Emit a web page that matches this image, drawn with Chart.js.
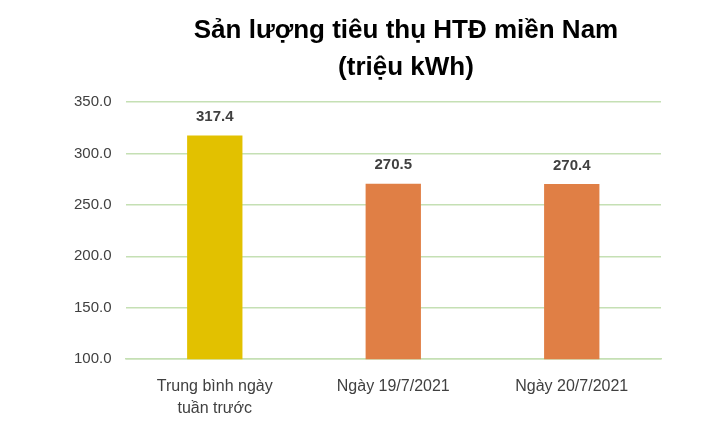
<!DOCTYPE html>
<html><head><meta charset="utf-8">
<script src="https://cdn.jsdelivr.net/npm/chart.js"></script>
<style>body{margin:0;background:#fff}#w{width:707px;height:434px}</style>
</head><body><div id="w"><canvas id="c"></canvas></div>
<script>
const categories=[["Trung bình ngày","tuần trước"],"Ngày 19/7/2021","Ngày 20/7/2021"];
const values=[317.4,270.5,270.4];
const colors=["#E2C100","#E07F45","#E07F45"];
const yTicks=[100,150,200,250,300,350];
const titleLines=["Sản lượng tiêu thụ HTĐ miền Nam","(triệu kWh)"];
const labelPlugin={id:'lbl',afterDatasetsDraw(ch){const ctx=ch.ctx;const m=ch.getDatasetMeta(0);ctx.save();ctx.font='bold 15px "Liberation Sans", Arial';ctx.fillStyle='#404040';ctx.textAlign='center';ctx.textBaseline='bottom';m.data.forEach((b,i)=>ctx.fillText(values[i].toFixed(1),b.x,b.y-11));
ctx.font='bold 26px "Liberation Sans", Arial';ctx.fillStyle='#000';ctx.textBaseline='middle';ctx.fillText(titleLines[0],406,31);ctx.fillText(titleLines[1],406,68);ctx.restore();}};
new Chart(document.getElementById('c'),{type:'bar',data:{labels:categories,datasets:[{data:values,backgroundColor:colors,barPercentage:0.62,categoryPercentage:0.5}]},
options:{responsive:true,maintainAspectRatio:false,animation:false,
layout:{padding:{left:60,right:46,top:102,bottom:6}},
plugins:{legend:{display:false},tooltip:{enabled:false},title:{display:false}},
scales:{y:{min:100,max:350,afterBuildTicks(a){a.ticks=yTicks.map(v=>({value:v}));},ticks:{callback:v=>v.toFixed(1),font:{family:'"Liberation Sans", Arial',size:15},color:'#404040',padding:14},grid:{color:'#C5E0B4',lineWidth:1.5,drawTicks:false},border:{display:false}},
x:{ticks:{font:{family:'"Liberation Sans", Arial',size:16,lineHeight:1.4},color:'#404040',padding:8},grid:{display:false},border:{color:'#C5E0B4',width:1.5}}}},plugins:[labelPlugin]});
</script></body></html>
